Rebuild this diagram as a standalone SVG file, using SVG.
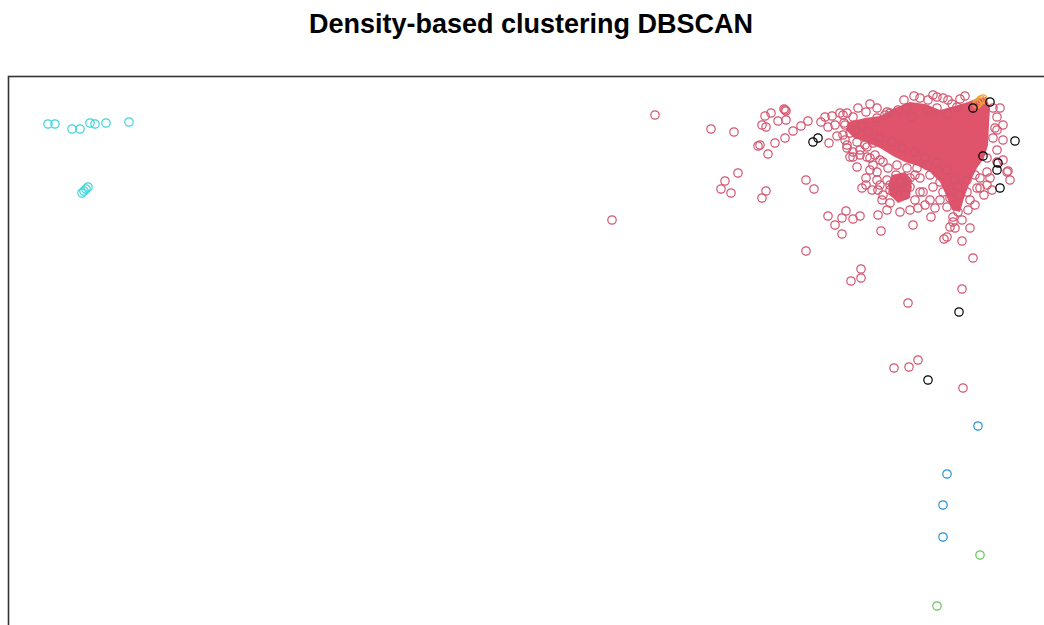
<svg xmlns="http://www.w3.org/2000/svg" width="1044" height="625" viewBox="0 0 1044 625">
<style>
.title{font-family:"Liberation Sans",Arial,sans-serif;font-weight:bold;font-size:27px;fill:#000}
circle{fill:none;stroke-width:1.2}
.r circle{stroke:#D2556F}
.k circle{stroke:#000}
.c circle{stroke:#3FD3DA}
.b circle{stroke:#2790D8}
.g circle{stroke:#66C455}
.o circle{stroke:#F2A33A}
.blob{fill:#DF536B;stroke:none}
</style>
<rect width="1044" height="625" fill="#fff"/>
<text class="title" x="531" y="33" text-anchor="middle">Density-based clustering DBSCAN</text>
<rect x="8.5" y="76.5" width="1060" height="580" fill="none" stroke="#333" stroke-width="1.6"/>
<g id="cluster-1" class="r">
<polygon class="blob" points="848,122 865,118 880,116 895,108 910,102 925,104 940,110 955,106 968,102 978,98 986,97 990,108 989,125 988,145 984,158 977,168 970,182 964,198 960,212 952,210 946,195 940,182 930,172 918,166 905,162 893,156 880,148 866,142 854,138 846,130"/>
<polygon class="blob" points="892,175 905,172 912,180 910,198 898,203 890,195 888,185"/>
<circle cx="655" cy="115" r="4.2"/><circle cx="612" cy="220" r="4.2"/><circle cx="711" cy="129" r="4.2"/><circle cx="734" cy="132" r="4.2"/>
<circle cx="738" cy="173" r="4.2"/><circle cx="725" cy="181" r="4.2"/><circle cx="721" cy="189" r="4.2"/><circle cx="731" cy="193" r="4.2"/>
<circle cx="762" cy="198" r="4.2"/><circle cx="766" cy="191" r="4.2"/><circle cx="758" cy="146" r="4.2"/><circle cx="768" cy="154" r="4.2"/>
<circle cx="775" cy="143" r="4.2"/><circle cx="785" cy="138" r="4.2"/><circle cx="793" cy="131" r="4.2"/><circle cx="801" cy="126" r="4.2"/>
<circle cx="808" cy="121" r="4.2"/><circle cx="786" cy="120" r="4.2"/><circle cx="778" cy="121" r="4.2"/><circle cx="765" cy="116" r="4.2"/>
<circle cx="771" cy="113" r="4.2"/><circle cx="762" cy="125" r="4.2"/><circle cx="766" cy="127" r="4.2"/><circle cx="760" cy="145" r="4.2"/>
<circle cx="784" cy="109" r="4.2"/><circle cx="785" cy="110" r="4.2"/><circle cx="786" cy="111" r="4.2"/>
<circle cx="806" cy="180" r="4.2"/><circle cx="814" cy="189" r="4.2"/><circle cx="828" cy="216" r="4.2"/><circle cx="846" cy="211" r="4.2"/>
<circle cx="853" cy="219" r="4.2"/><circle cx="860" cy="216" r="4.2"/><circle cx="842" cy="234" r="4.2"/><circle cx="881" cy="231" r="4.2"/>
<circle cx="913" cy="225" r="4.2"/><circle cx="953" cy="222" r="4.2"/><circle cx="944" cy="239" r="4.2"/><circle cx="962" cy="241" r="4.2"/>
<circle cx="806" cy="251" r="4.2"/><circle cx="973" cy="258" r="4.2"/><circle cx="861" cy="269" r="4.2"/><circle cx="861" cy="278" r="4.2"/>
<circle cx="851" cy="281" r="4.2"/><circle cx="962" cy="289" r="4.2"/><circle cx="908" cy="303" r="4.2"/><circle cx="894" cy="368" r="4.2"/>
<circle cx="909" cy="367" r="4.2"/><circle cx="918" cy="360" r="4.2"/><circle cx="963" cy="388" r="4.2"/><circle cx="947" cy="237" r="4.2"/>
<circle cx="821" cy="122" r="4.2"/><circle cx="825" cy="117" r="4.2"/><circle cx="832" cy="116" r="4.2"/><circle cx="840" cy="113" r="4.2"/>
<circle cx="847" cy="113" r="4.2"/><circle cx="853" cy="117" r="4.2"/><circle cx="828" cy="127" r="4.2"/><circle cx="835" cy="125" r="4.2"/>
<circle cx="844" cy="123" r="4.2"/><circle cx="829" cy="143" r="4.2"/><circle cx="837" cy="136" r="4.2"/><circle cx="845" cy="140" r="4.2"/>
<circle cx="850" cy="133" r="4.2"/><circle cx="847" cy="148" r="4.2"/><circle cx="857" cy="142" r="4.2"/><circle cx="853" cy="157" r="4.2"/>
<circle cx="860" cy="150" r="4.2"/><circle cx="867" cy="147" r="4.2"/><circle cx="873" cy="143" r="4.2"/><circle cx="867" cy="157" r="4.2"/>
<circle cx="875" cy="155" r="4.2"/><circle cx="857" cy="167" r="4.2"/><circle cx="870" cy="170" r="4.2"/><circle cx="880" cy="160" r="4.2"/>
<circle cx="888" cy="168" r="4.2"/><circle cx="877" cy="108" r="4.2"/><circle cx="877" cy="118" r="4.2"/><circle cx="885" cy="115" r="4.2"/>
<circle cx="878" cy="190" r="4.2"/><circle cx="882" cy="200" r="4.2"/><circle cx="890" cy="203" r="4.2"/><circle cx="887" cy="180" r="4.2"/>
<circle cx="897" cy="187" r="4.2"/><circle cx="887" cy="210" r="4.2"/><circle cx="900" cy="212" r="4.2"/><circle cx="910" cy="210" r="4.2"/>
<circle cx="890" cy="190" r="4.2"/><circle cx="900" cy="183" r="4.2"/><circle cx="910" cy="187" r="4.2"/><circle cx="923" cy="192" r="4.2"/>
<circle cx="933" cy="187" r="4.2"/><circle cx="950" cy="190" r="4.2"/><circle cx="967" cy="180" r="4.2"/><circle cx="980" cy="188" r="4.2"/>
<circle cx="992" cy="190" r="4.2"/><circle cx="1008" cy="171" r="4.2"/><circle cx="997" cy="150" r="4.2"/><circle cx="997" cy="130" r="4.2"/>
<circle cx="997" cy="117" r="4.2"/><circle cx="1000" cy="108" r="4.2"/><circle cx="877" cy="180" r="4.2"/>
<circle cx="920" cy="98" r="4.2"/><circle cx="928" cy="100" r="4.2"/><circle cx="937" cy="97" r="4.2"/><circle cx="943" cy="98" r="4.2"/>
<circle cx="887" cy="112" r="4.2"/><circle cx="898" cy="110" r="4.2"/><circle cx="907" cy="108" r="4.2"/><circle cx="927" cy="110" r="4.2"/>
<circle cx="937" cy="108" r="4.2"/><circle cx="912" cy="117" r="4.2"/><circle cx="890" cy="113" r="4.2"/><circle cx="933" cy="95" r="4.2"/>
<circle cx="843" cy="115" r="4.2"/><circle cx="845" cy="125" r="4.2"/><circle cx="843" cy="135" r="4.2"/><circle cx="847" cy="145" r="4.2"/>
<circle cx="853" cy="152" r="4.2"/><circle cx="850" cy="157" r="4.2"/><circle cx="865" cy="145" r="4.2"/><circle cx="860" cy="155" r="4.2"/>
<circle cx="870" cy="158" r="4.2"/><circle cx="873" cy="165" r="4.2"/><circle cx="877" cy="172" r="4.2"/><circle cx="883" cy="162" r="4.2"/>
<circle cx="897" cy="165" r="4.2"/><circle cx="907" cy="168" r="4.2"/><circle cx="917" cy="168" r="4.2"/><circle cx="927" cy="165" r="4.2"/>
<circle cx="930" cy="175" r="4.2"/><circle cx="920" cy="178" r="4.2"/><circle cx="910" cy="178" r="4.2"/><circle cx="900" cy="182" r="4.2"/>
<circle cx="890" cy="185" r="4.2"/><circle cx="880" cy="185" r="4.2"/><circle cx="883" cy="195" r="4.2"/><circle cx="893" cy="192" r="4.2"/>
<circle cx="907" cy="188" r="4.2"/><circle cx="920" cy="192" r="4.2"/><circle cx="940" cy="182" r="4.2"/><circle cx="943" cy="192" r="4.2"/>
<circle cx="950" cy="198" r="4.2"/><circle cx="960" cy="195" r="4.2"/><circle cx="947" cy="207" r="4.2"/><circle cx="953" cy="217" r="4.2"/>
<circle cx="958" cy="212" r="4.2"/><circle cx="962" cy="220" r="4.2"/>
<circle cx="993" cy="108" r="4.2"/><circle cx="995" cy="128" r="4.2"/><circle cx="993" cy="138" r="4.2"/><circle cx="997" cy="162" r="4.2"/>
<circle cx="987" cy="158" r="4.2"/><circle cx="1007" cy="172" r="4.2"/><circle cx="987" cy="172" r="4.2"/><circle cx="980" cy="178" r="4.2"/>
<circle cx="987" cy="185" r="4.2"/><circle cx="977" cy="188" r="4.2"/><circle cx="967" cy="192" r="4.2"/>
<circle cx="858" cy="108" r="4.2"/><circle cx="866" cy="112" r="4.2"/><circle cx="870" cy="104" r="4.2"/><circle cx="904" cy="100" r="4.2"/>
<circle cx="914" cy="96" r="4.2"/><circle cx="948" cy="100" r="4.2"/><circle cx="952" cy="104" r="4.2"/><circle cx="960" cy="99" r="4.2"/>
<circle cx="965" cy="96" r="4.2"/><circle cx="957" cy="107" r="4.2"/><circle cx="948" cy="114" r="4.2"/><circle cx="862" cy="126" r="4.2"/>
<circle cx="868" cy="132" r="4.2"/><circle cx="855" cy="130" r="4.2"/><circle cx="880" cy="138" r="4.2"/><circle cx="892" cy="142" r="4.2"/>
<circle cx="902" cy="148" r="4.2"/><circle cx="915" cy="152" r="4.2"/><circle cx="925" cy="158" r="4.2"/><circle cx="937" cy="163" r="4.2"/>
<circle cx="947" cy="170" r="4.2"/><circle cx="955" cy="180" r="4.2"/><circle cx="958" cy="186" r="4.2"/><circle cx="940" cy="200" r="4.2"/>
<circle cx="930" cy="200" r="4.2"/><circle cx="935" cy="208" r="4.2"/><circle cx="970" cy="200" r="4.2"/><circle cx="975" cy="205" r="4.2"/>
<circle cx="968" cy="210" r="4.2"/><circle cx="955" cy="228" r="4.2"/><circle cx="970" cy="228" r="4.2"/><circle cx="950" cy="227" r="4.2"/>
<circle cx="905" cy="195" r="4.2"/><circle cx="915" cy="200" r="4.2"/><circle cx="925" cy="205" r="4.2"/><circle cx="872" cy="190" r="4.2"/>
<circle cx="866" cy="185" r="4.2"/><circle cx="896" cy="175" r="4.2"/><circle cx="915" cy="175" r="4.2"/><circle cx="1003" cy="160" r="4.2"/>
<circle cx="1003" cy="140" r="4.2"/><circle cx="1003" cy="125" r="4.2"/><circle cx="990" cy="178" r="4.2"/><circle cx="975" cy="175" r="4.2"/>
<circle cx="984" cy="195" r="4.2"/><circle cx="1010" cy="180" r="4.2"/><circle cx="866" cy="178" r="4.2"/><circle cx="862" cy="188" r="4.2"/>
<circle cx="918" cy="208" r="4.2"/><circle cx="931" cy="217" r="4.2"/><circle cx="878" cy="215" r="4.2"/><circle cx="842" cy="218" r="4.2"/>
<circle cx="835" cy="225" r="4.2"/>
</g>
<g id="cluster-orange" class="o">
<circle cx="977" cy="104" r="4.2"/><circle cx="979" cy="102" r="4.2"/><circle cx="981" cy="100" r="4.2"/><circle cx="983" cy="99" r="4.2"/>
</g>
<g id="noise" class="k">
<circle cx="813" cy="142" r="4.2"/><circle cx="818" cy="138" r="4.2"/><circle cx="1015" cy="141" r="4.2"/><circle cx="990" cy="102" r="4.2"/>
<circle cx="973" cy="108" r="4.2"/><circle cx="983" cy="156" r="4.2"/><circle cx="998" cy="163" r="4.2"/><circle cx="997" cy="170" r="4.2"/>
<circle cx="1000" cy="188" r="4.2"/><circle cx="959" cy="312" r="4.2"/><circle cx="928" cy="380" r="4.2"/>
</g>
<g id="cluster-cyan" class="c">
<circle cx="48" cy="124" r="4.2"/><circle cx="55" cy="124" r="4.2"/><circle cx="72" cy="129" r="4.2"/><circle cx="80" cy="129" r="4.2"/>
<circle cx="90" cy="123" r="4.2"/><circle cx="95" cy="124" r="4.2"/><circle cx="106" cy="123" r="4.2"/><circle cx="129" cy="122" r="4.2"/>
<circle cx="82" cy="193" r="4.2"/><circle cx="84" cy="191" r="4.2"/><circle cx="86" cy="189" r="4.2"/><circle cx="88" cy="187" r="4.2"/>
</g>
<g id="cluster-blue" class="b">
<circle cx="978" cy="426" r="4.2"/><circle cx="947" cy="474" r="4.2"/><circle cx="943" cy="505" r="4.2"/><circle cx="943" cy="537" r="4.2"/>
</g>
<g id="cluster-green" class="g">
<circle cx="980" cy="555" r="4.2"/><circle cx="937" cy="606" r="4.2"/>
</g>
</svg>
